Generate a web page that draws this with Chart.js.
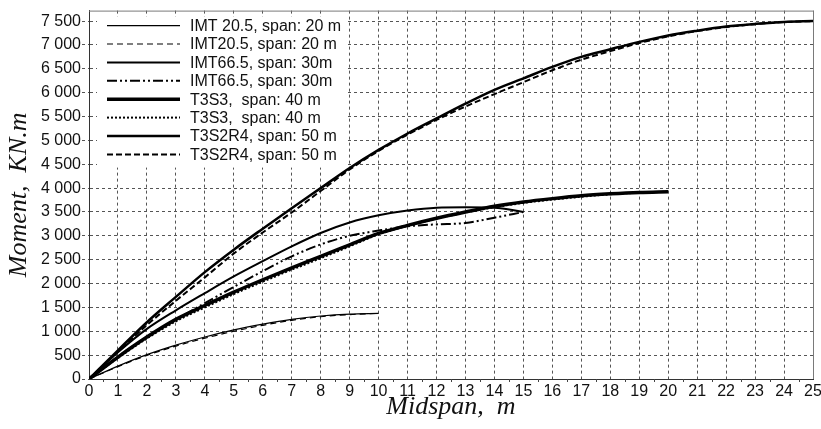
<!DOCTYPE html>
<html>
<head>
<meta charset="utf-8">
<script src="https://cdn.jsdelivr.net/npm/chart.js@4.4.1/dist/chart.umd.min.js"></script>
<style>
  html, body { margin: 0; padding: 0; background: #fff; }
  #wrap { width: 821px; height: 429px; }
</style>
</head>
<body>
<div id="wrap"><canvas id="momentChart" width="821" height="429"></canvas></div>
<script>
// --- Data ---
const midspan = [0, 1, 2, 3, 4, 5, 6, 7, 8, 9, 10, 11, 12, 13, 14, 15, 16, 17, 18, 19, 20, 21, 22, 23, 24, 25];

const seriesNames = [
    "IMT 20.5, span: 20 m",
    "IMT20.5, span: 20 m",
    "IMT66.5, span: 30m",
    "IMT66.5, span: 30m",
    "T3S3,  span: 40 m",
    "T3S3,  span: 40 m",
    "T3S2R4, span: 50 m",
    "T3S2R4, span: 50 m"
];

// span 20 m (x = 0..10)
const imt205A = [0, 270, 510, 710, 880, 1030, 1150, 1250, 1320, 1360, 1375];
const imt205B = [0, 260, 495, 690, 855, 1000, 1125, 1230, 1305, 1350, 1375];
// span 30 m (x = 0..15)
const imt665A = [0, 560, 1050, 1440, 1800, 2150, 2470, 2780, 3060, 3280, 3430, 3530, 3590, 3600, 3590, 3500];
const imt665B = [0, 470, 880, 1240, 1590, 1930, 2260, 2570, 2820, 3000, 3110, 3200, 3240, 3270, 3380, 3500];
// span 40 m (x = 0..20)
const t3s3A = [0, 460, 880, 1250, 1540, 1820, 2080, 2330, 2570, 2810, 3050, 3220, 3370, 3500, 3620, 3710, 3780, 3840, 3880, 3910, 3925];
const t3s3B = [0, 440, 850, 1210, 1500, 1780, 2040, 2290, 2530, 2780, 3030, 3210, 3360, 3490, 3600, 3690, 3760, 3820, 3870, 3905, 3925];
// span 50 m (x = 0..25)
const t3s2r4A = [0, 600, 1190, 1720, 2240, 2710, 3150, 3580, 4000, 4420, 4800, 5145, 5460, 5770, 6060, 6300, 6540, 6750, 6910, 7065, 7200, 7300, 7385, 7440, 7483, 7500];
const t3s2r4B = [0, 570, 1130, 1640, 2130, 2630, 3070, 3490, 3940, 4390, 4780, 5120, 5430, 5710, 5970, 6220, 6470, 6690, 6870, 7040, 7180, 7290, 7375, 7435, 7480, 7500];

const yTicks = [0, 500, 1000, 1500, 2000, 2500, 3000, 3500, 4000, 4500, 5000, 5500, 6000, 6500, 7000, 7500];

// line styles, same order as seriesNames
const lineWidths = [1.2, 1.2, 2, 2, 3.5, 2, 2.5, 2];
const lineDashes = [[], [6, 4], [], [10, 3, 2, 3, 2, 3], [], [2, 2], [], [6, 3]];

const allSeries = [imt205A, imt205B, imt665A, imt665B, t3s3A, t3s3B, t3s2r4A, t3s2r4B];

const datasets = allSeries.map((vals, i) => ({
    label: seriesNames[i],
    data: vals.map((v, k) => ({ x: midspan[k], y: v })),
    borderColor: '#000',
    backgroundColor: '#000',
    borderWidth: lineWidths[i],
    borderDash: lineDashes[i],
    pointRadius: 0,
    cubicInterpolationMode: 'monotone',
    fill: false
}));

function fmtThousands(v) {
    if (v < 1000) return String(v);
    return Math.floor(v / 1000) + ' ' + String(v % 1000).padStart(3, '0');
}

// frame, minor ticks and boxed legend
const extrasPlugin = {
    id: 'extras',
    afterDatasetsDraw(chart) {
        const { ctx, chartArea: a, scales } = chart;
        ctx.save();
        // top / right frame
        ctx.strokeStyle = '#7a7a7a';
        ctx.lineWidth = 1;
        ctx.beginPath();
        ctx.moveTo(a.left, a.top + 0.5);
        ctx.lineTo(a.right + 0.5, a.top + 0.5);
        ctx.lineTo(a.right + 0.5, a.bottom);
        ctx.stroke();

        // minor ticks on x axis
        ctx.strokeStyle = '#444';
        ctx.beginPath();
        for (let k = 0; k < midspan.length - 1; k++) {
            const px = Math.round(scales.x.getPixelForValue(midspan[k] + 0.5)) + 0.5;
            ctx.moveTo(px, a.bottom);
            ctx.lineTo(px, a.bottom + 3);
        }
        ctx.stroke();

        // legend
        const boxL = a.left + 8, boxT = a.top + 6, boxW = 250, boxH = 151;
        ctx.fillStyle = '#fff';
        ctx.fillRect(boxL, boxT, boxW, boxH);
        ctx.font = '16px "Liberation Sans", Arial, sans-serif';
        ctx.textBaseline = 'middle';
        chart.data.datasets.forEach((ds, i) => {
            const y = boxT + 9 + i * 18.4;
            ctx.strokeStyle = '#000';
            ctx.lineWidth = ds.borderWidth;
            ctx.setLineDash(ds.borderDash);
            ctx.beginPath();
            ctx.moveTo(boxL + 10, y);
            ctx.lineTo(boxL + 83, y);
            ctx.stroke();
            ctx.setLineDash([]);
            ctx.fillStyle = '#111';
            ctx.fillText(ds.label, boxL + 93, y + 1);
        });
        ctx.restore();
    }
};

new Chart(document.getElementById('momentChart'), {
    type: 'line',
    data: { datasets: datasets },
    plugins: [extrasPlugin],
    options: {
        responsive: false,
        devicePixelRatio: 1,
        animation: false,
        layout: { padding: { left: 0, top: 8, right: 0, bottom: 0 } },
        plugins: { legend: { display: false }, tooltip: { enabled: false } },
        scales: {
            x: {
                type: 'linear',
                min: 0,
                max: 25,
                afterFit: s => { s.height = 50; s.paddingRight = 8; s.paddingLeft = 0; },
                ticks: {
                    stepSize: 1,
                    padding: 3,
                    color: '#111',
                    maxRotation: 0,
                    autoSkip: false,
                    font: { family: '"Liberation Sans", Arial, sans-serif', size: 16 }
                },
                grid: { color: '#555', lineWidth: 1, drawTicks: false },
                border: { display: true, color: '#333', width: 1, dash: [3, 3] },
                title: {
                    display: true,
                    text: 'Midspan,  m',
                    color: '#111',
                    padding: { top: 0, bottom: 6 },
                    font: { family: '"Liberation Serif", "DejaVu Serif", serif', style: 'italic', size: 26 }
                }
            },
            y: {
                min: 0,
                max: 7720,
                afterFit: s => { s.width = 89; },
                afterBuildTicks: s => { s.ticks = yTicks.map(v => ({ value: v })); },
                ticks: {
                    stepSize: 500,
                    padding: 1,
                    color: '#111',
                    callback: v => fmtThousands(v),
                    font: { family: '"Liberation Sans", Arial, sans-serif', size: 16 }
                },
                grid: { color: '#555', lineWidth: 1, drawTicks: true, tickLength: 7, tickBorderDash: [3, 3] },
                border: { display: true, color: '#333', width: 1, dash: [3, 3] },
                title: {
                    display: true,
                    text: 'Moment,  KN.m',
                    color: '#111',
                    padding: { top: 4, bottom: 0 },
                    font: { family: '"Liberation Serif", "DejaVu Serif", serif', style: 'italic', size: 26 }
                }
            }
        }
    }
});
</script>
</body>
</html>
